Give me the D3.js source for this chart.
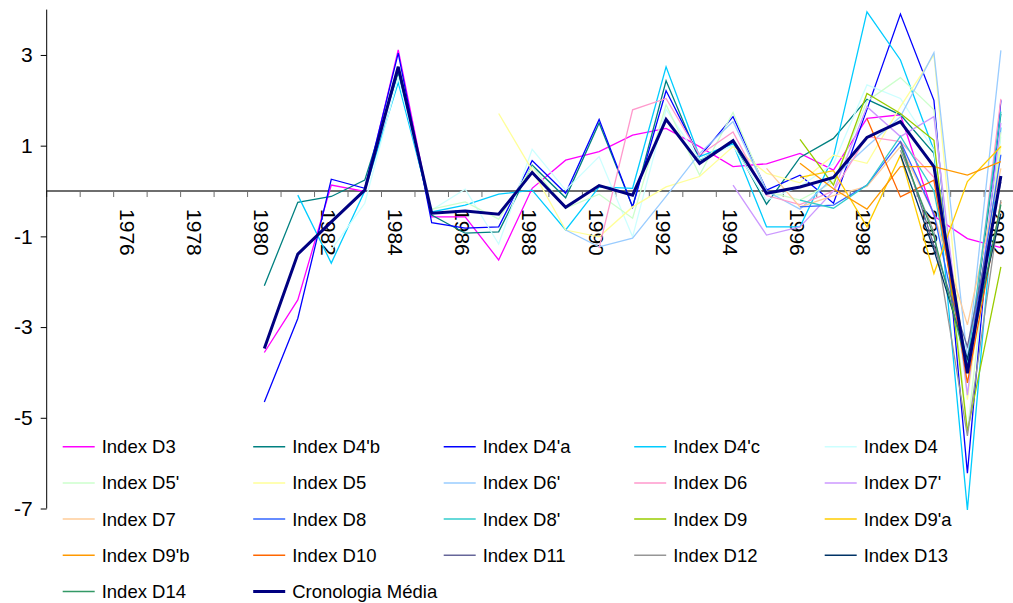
<!DOCTYPE html>
<html>
<head>
<meta charset="utf-8">
<script src="https://cdn.jsdelivr.net/npm/d3@7"></script>
<style>
  body { margin: 0; background: #fff; }
  svg { font-family: "Liberation Sans", Arial, sans-serif; }
</style>
</head>
<body>
<script>
// categories on the x axis (1974..2002), data from 1980
const categories = d3.range(1974, 2003);
const years = d3.range(1980, 2003);
const yearLabels = d3.range(1976, 2003, 2);
const yTicks = [-7, -5, -3, -1, 1, 3];

const n = null;
const seriesNames = ["Index D3", "Index D4'b", "Index D4'a", "Index D4'c", "Index D4",
  "Index D5'", "Index D5", "Index D6'", "Index D6", "Index D7'",
  "Index D7", "Index D8", "Index D8'", "Index D9", "Index D9'a",
  "Index D9'b", "Index D10", "Index D11", "Index D12", "Index D13",
  "Index D14", "Cronologia Média"];
const seriesColors = ["#ff00ff", "#008080", "#0000ff", "#00ccff", "#ccffff",
  "#ccffcc", "#ffff99", "#99ccff", "#ff99cc", "#cc99ff",
  "#ffcc99", "#3366ff", "#33cccc", "#99cc00", "#ffcc00",
  "#ff9900", "#ff6600", "#666699", "#969696", "#003366",
  "#339966", "#000080"];

// values 1980..2002
const d3v   = [-3.56, -2.40, 0.13, -0.01, 3.11, -0.57, -0.57, -1.52, 0.06, 0.68, 0.87, 1.23, 1.38, 0.98, 0.54, 0.60, 0.83, 0.46, 1.60, 1.68, -0.55, -1.05, -1.25];
const d4b   = [-2.09, -0.25, -0.12, 0.24, 2.6, -0.53, -0.93, -0.90, 0.57, -0.15, 1.5, -0.35, 2.43, 0.68, 1.07, -0.29, 0.74, 1.16, 2.02, 1.68, 0.83, -4.0, 1.7];
const d4a   = [-4.65, -2.81, 0.26, 0.06, 3.04, -0.70, -0.82, -0.79, 0.67, -0.05, 1.58, -0.35, 2.21, 0.76, 1.64, 0.02, 0.35, -0.27, 1.8, 3.9, 2.0, -6.22, 2.0];
const d4c   = [n, -0.09, -1.59, 0.0, 2.39, -0.46, -0.31, -0.07, 0.02, -0.86, 0.09, 0.06, 2.74, 0.76, 1.04, -0.79, -0.79, 0.76, 3.95, 2.89, 0.9, -7.03, 1.4];
const d4    = [n, n, -1.3, -0.27, 2.5, -0.42, 0.04, -1.17, 0.92, 0.02, 0.76, -1.01, 1.8, 0.7, 1.0, -0.2, 0.1, 0.6, 2.34, 2.04, 0.9, -4.5, 1.2];
const d5p   = [n, n, n, n, n, -0.4, -0.24, -0.62, 0.54, -0.38, -0.07, -0.6, 1.9, 0.35, 1.73, -0.01, -0.2, 0.2, 1.98, 2.5, 1.79, -5.3, 1.3];
const d5    = [n, n, n, n, n, n, n, 1.71, 0.46, -0.86, -1.01, -0.35, 0.09, 0.32, 0.98, 0.39, 0.18, 0.79, 0.61, 1.86, 3.0, -4.6, 1.0];
const d6p   = [n, n, n, n, n, n, n, n, n, -0.86, -1.23, -1.04, -0.12, 0.83, 1.53, 0.0, -0.4, 0.3, 0.98, 1.64, 3.05, -3.7, 3.1];
const d6    = [n, n, n, n, n, n, n, n, n, n, -1.26, 1.79, 2.04, 0.79, 1.3, -0.1, -0.3, 0.0, 1.2, 1.09, 0.3, -4.0, 2.03];
const d7p   = [n, n, n, n, n, n, n, n, n, n, n, n, n, n, 0.13, -0.97, -0.79, 0.0, 1.86, 1.2, 1.64, -4.5, 1.5];
const d7    = [n, n, n, n, n, n, n, n, n, n, n, n, n, n, n, 0.5, -0.35, -0.1, 0.1, 0.98, -0.5, -2.95, 0.5];
const d8    = [n, n, n, n, n, n, n, n, n, n, n, n, n, n, n, n, -0.35, -0.31, 0.13, 1.09, -0.5, -3.9, 0.8];
const d8p   = [n, n, n, n, n, n, n, n, n, n, n, n, n, n, n, n, -0.2, -0.38, 0.13, 1.21, 0.0, -3.8, 1.75];
const d9    = [n, n, n, n, n, n, n, n, n, n, n, n, n, n, n, n, 1.14, 0.13, 2.15, 1.71, 1.12, -5.3, -1.67];
const d9a   = [n, n, n, n, n, n, n, n, n, n, n, n, n, n, n, n, 0.3, 0.45, -0.79, 0.79, -1.82, 0.21, 0.98];
const d9b   = [n, n, n, n, n, n, n, n, n, n, n, n, n, n, n, n, 0.61, 0.05, -0.4, 0.54, 0.54, 0.35, 0.65];
const d10   = [n, n, n, n, n, n, n, n, n, n, n, n, n, n, n, n, n, n, 1.6, -0.13, 0.24, -4.23, -0.24];
const d11   = [n, n, n, n, n, n, n, n, n, n, n, n, n, n, n, n, n, n, n, 1.09, -1.2, -3.43, 0.2];
const d12   = [n, n, n, n, n, n, n, n, n, n, n, n, n, n, n, n, n, n, n, 0.9, -0.9, -5.4, -0.2];
const d13   = [n, n, n, n, n, n, n, n, n, n, n, n, n, n, n, n, n, n, n, 0.8, -1.3, -3.7, -0.5];
const d14   = [n, n, n, n, n, n, n, n, n, n, n, n, n, n, n, n, n, n, n, 1.0, -1.0, -3.9, -0.3];
const media = [-3.47, -1.39, -0.68, 0.02, 2.74, -0.49, -0.44, -0.51, 0.41, -0.36, 0.12, -0.09, 1.58, 0.61, 1.11, -0.05, 0.09, 0.30, 1.18, 1.53, 0.54, -4.02, 0.33];

const seriesValues = [d3v, d4b, d4a, d4c, d4, d5p, d5, d6p, d6, d7p, d7, d8, d8p, d9, d9a, d9b, d10, d11, d12, d13, d14, media];

const W = 1013, H = 603;
const svg = d3.select("body").append("svg").attr("width", W).attr("height", H);

const x = d3.scaleBand().domain(categories).range([46.7, 46.7 + 29 * 33.48]);
const y = d3.scaleLinear().domain([-7, 4]).range([508.5, 9.6]);
const xc = d => x(d) + x.bandwidth() / 2;

// x axis along zero
const xAxis = svg.append("g");
xAxis.append("line")
  .attr("x1", 46.7).attr("x2", W).attr("y1", y(0)).attr("y2", y(0))
  .attr("stroke", "#6e6e6e").attr("stroke-width", 2);
xAxis.selectAll(".xt").data(categories).enter().append("line")
  .attr("x1", d => x(d)).attr("x2", d => x(d))
  .attr("y1", y(0)).attr("y2", y(0) + 6)
  .attr("stroke", "#6e6e6e").attr("stroke-width", 1);
xAxis.selectAll(".xl").data(yearLabels).enter().append("text")
  .attr("transform", d => "translate(" + (xc(d) - 3) + "," + (y(0) + 18) + ") rotate(90)")
  .attr("dominant-baseline", "central")
  .attr("font-size", 21)
  .attr("fill", "#000")
  .text(d => d);

// y axis
const yAxis = svg.append("g").attr("transform", "translate(46.7,0)")
  .call(d3.axisLeft(y).tickValues(yTicks).tickSize(6).tickPadding(8).tickFormat(d => String(d)));
yAxis.select(".domain").attr("stroke", "#000").attr("d", "M0," + y(4) + "V" + y(-7));
yAxis.selectAll("text").attr("font-size", 21).attr("font-family", "Liberation Sans, Arial, sans-serif").attr("fill", "#000");

// lines
const line = d3.line()
  .defined(d => d.v !== null)
  .x(d => xc(d.year))
  .y(d => y(d.v));

seriesValues.forEach((vals, i) => {
  const pts = years.map((yr, j) => ({ year: yr, v: vals[j] }));
  const isMean = i === seriesValues.length - 1;
  svg.append("path")
    .datum(pts)
    .attr("fill", "none")
    .attr("stroke", seriesColors[i])
    .attr("stroke-width", isMean ? 3 : 1.3)
    .attr("stroke-linejoin", "miter")
    .attr("d", line);
});

// legend
const legend = svg.append("g");
seriesNames.forEach((name, i) => {
  const col = i % 5, row = Math.floor(i / 5);
  const lx = 62.7 + col * 190.5, ly = 446.7 + row * 36.2;
  legend.append("line")
    .attr("x1", lx).attr("x2", lx + 32).attr("y1", ly).attr("y2", ly)
    .attr("stroke", seriesColors[i])
    .attr("stroke-width", i === seriesNames.length - 1 ? 3 : 1.5);
  legend.append("text")
    .attr("x", lx + 39).attr("y", ly)
    .attr("dominant-baseline", "central")
    .attr("font-size", 18.5)
    .attr("fill", "#000")
    .text(name);
});
</script>
</body>
</html>
